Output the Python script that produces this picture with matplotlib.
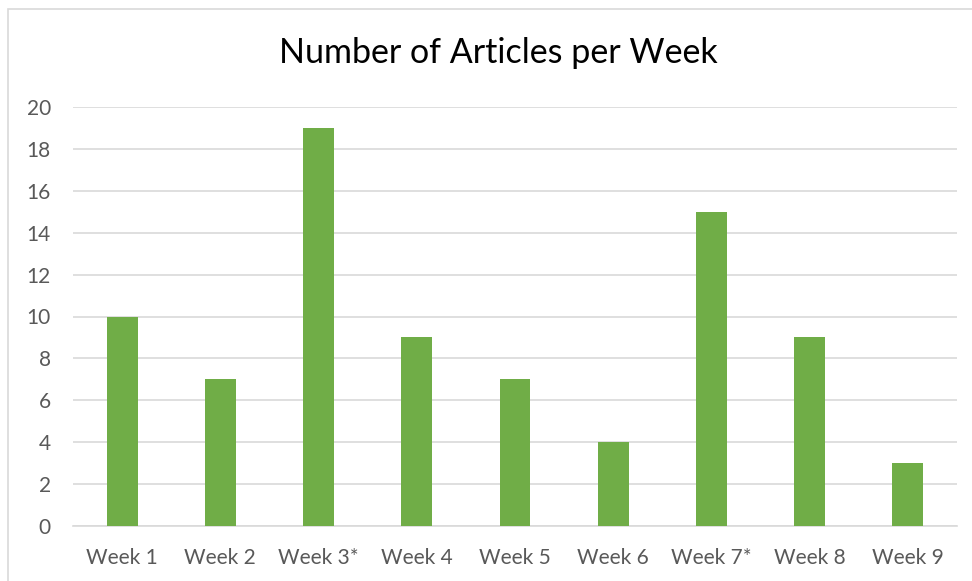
import matplotlib.pyplot as plt
from matplotlib.patches import Rectangle

weeks = ['Week 1', 'Week 2', 'Week 3*', 'Week 4', 'Week 5', 'Week 6', 'Week 7*', 'Week 8', 'Week 9']
articles = [10, 7, 19, 9, 7, 4, 15, 9, 3]

plt.rcParams['font.family'] = ['Lato', 'DejaVu Sans']

fig = plt.figure(figsize=(9.72, 5.81), dpi=100)
fig.patch.set_facecolor('white')

# light chart border (only left and top visible in the crop)
fig.patches.append(Rectangle((8 / 972, -0.1), 1.0, 1.1 - 9 / 581, transform=fig.transFigure,
                             fill=False, edgecolor='#d9d9d9', linewidth=1.2))

ax = fig.add_axes([73 / 972, 1 - 526 / 581, 884 / 972, 419 / 581])
x = range(len(weeks))
ax.bar(x, articles, width=0.315, color='#70ad47', zorder=3)

ax.set_xlim(-0.5, len(weeks) - 0.5)
ax.set_ylim(0, 20)
ax.set_yticks(range(0, 21, 2))
ax.set_xticks(list(x))
ax.set_xticklabels(weeks)
ax.grid(axis='y', color='#d9d9d9', linewidth=1.2, zorder=0)
for s in ['top', 'right', 'left']:
    ax.spines[s].set_visible(False)
ax.spines['bottom'].set_color('#d9d9d9')
ax.spines['bottom'].set_linewidth(1.2)
ax.tick_params(axis='y', length=0, pad=16, labelsize=15, labelcolor='#595959')
ax.tick_params(axis='x', length=0, pad=16, labelsize=15, labelcolor='#595959')

fig.text(498 / 972, 1 - 53 / 581, 'Number of Articles per Week', ha='center', va='center',
         fontsize=24.5, color='black')

fig.savefig('out.png', dpi=100)
